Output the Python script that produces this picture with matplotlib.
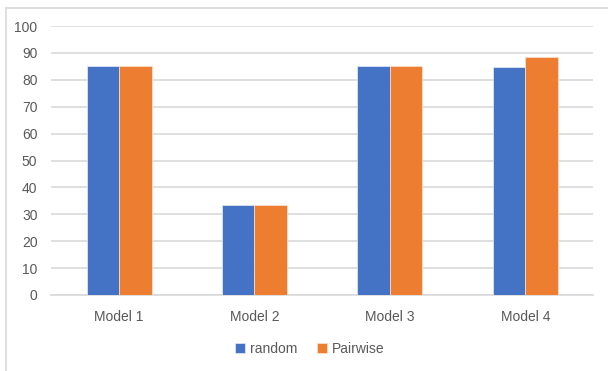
import numpy as np
import matplotlib
matplotlib.use("Agg")
import matplotlib.pyplot as plt
from matplotlib.lines import Line2D

models = ["Model 1", "Model 2", "Model 3", "Model 4"]
random_vals = [85.3, 33.5, 85.3, 84.7]
pairwise_vals = [85.3, 33.5, 85.3, 88.4]
yticks = list(range(0, 101, 10))

plt.rcParams['font.family'] = ['Liberation Sans', 'DejaVu Sans']
plt.rcParams['font.size'] = 10

blue = "#4472C4"
orange = "#ED7D31"
grid = "#D9D9D9"
txt = "#595959"

fig = plt.figure(figsize=(6.08, 3.71), dpi=100)
ax = fig.add_axes([51.3 / 608, 1 - 295 / 371, (593 - 51.3) / 608, (295 - 26) / 371])

x = np.arange(len(models))
w = 0.24
ax.bar(x - w / 2, random_vals, w, color=blue, edgecolor="#E8EEF8", linewidth=0.5,
       label="random", zorder=3)
ax.bar(x + w / 2, pairwise_vals, w, color=orange, edgecolor="#FBE3D2", linewidth=0.5,
       label="Pairwise", zorder=3)

ax.set_xlim(-0.5, 3.5)
ax.set_ylim(0, 100)
ax.set_yticks(yticks)
ax.set_xticks(x)
ax.set_xticklabels(models)
ax.yaxis.grid(True, color=grid, linewidth=1.2, zorder=0)
for s in ["top", "right", "left"]:
    ax.spines[s].set_visible(False)
ax.spines["bottom"].set_color(grid)
ax.spines["bottom"].set_linewidth(1.2)
ax.tick_params(axis="both", length=0, colors=txt, labelsize=10)
ax.tick_params(axis="y", pad=10)
ax.tick_params(axis="x", pad=11)

fig.legend(loc="center", bbox_to_anchor=(310 / 608, 1 - 349 / 371), ncol=2,
           frameon=False, handlelength=0.7, handleheight=0.7, handletextpad=0.4,
           columnspacing=1.4, labelcolor=txt, fontsize=10)

# chart area border
fig.add_artist(Line2D([5.5 / 608, 5.5 / 608], [0, 1 - 8 / 371], color=grid, lw=1.2,
                      transform=fig.transFigure))
fig.add_artist(Line2D([5.5 / 608, 1], [1 - 8 / 371, 1 - 8 / 371], color=grid, lw=1.2,
                      transform=fig.transFigure))

fig.savefig("out.png", dpi=100)
